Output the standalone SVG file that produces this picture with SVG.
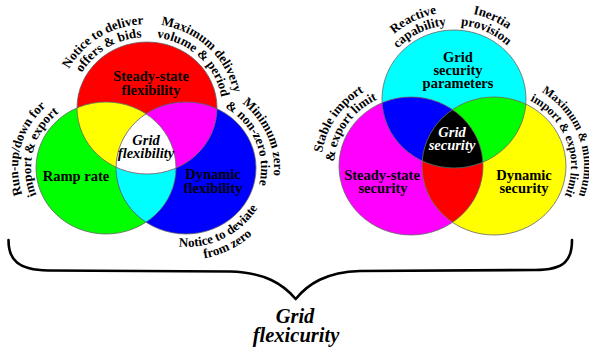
<svg xmlns="http://www.w3.org/2000/svg" xmlns:xlink="http://www.w3.org/1999/xlink" width="589" height="348" viewBox="0 0 589 348">
<style>
text{font-family:"Liberation Serif","Times New Roman",serif;font-weight:bold;fill:#000;}
.lbl{font-size:14.5px;text-anchor:middle;}
.it{font-style:italic;}
.arc{font-size:13px;}
.arcs{font-size:12px;}
.big{font-size:20.5px;text-anchor:middle;font-style:italic;}
.wt{fill:#fff;}
.ol{fill:none;stroke:#666;stroke-width:0.8;}
.brace{fill:none;stroke:#000;stroke-width:2.6;stroke-linecap:round;stroke-linejoin:round;}
</style>
<defs>
<ellipse id="eR" cx="147" cy="108" rx="70" ry="66"/>
<ellipse id="eG" cx="106" cy="168" rx="70" ry="66"/>
<ellipse id="eB" cx="186" cy="168" rx="70" ry="66"/>
<ellipse id="eC" cx="454" cy="99" rx="72" ry="69"/>
<ellipse id="eM" cx="411" cy="166" rx="72" ry="69"/>
<ellipse id="eY" cx="494" cy="166" rx="72" ry="69"/>
<clipPath id="cR"><use xlink:href="#eR"/></clipPath>
<clipPath id="cG"><use xlink:href="#eG"/></clipPath>
<clipPath id="cB"><use xlink:href="#eB"/></clipPath>
<clipPath id="cC"><use xlink:href="#eC"/></clipPath>
<clipPath id="cM"><use xlink:href="#eM"/></clipPath>
<clipPath id="cY"><use xlink:href="#eY"/></clipPath>
<path id="pA1" d="M72.73,117.88 A75,71 0 0 1 186.74,47.79"/>
<path id="pA2" d="M59.86,119.69 A88,84 0 0 1 193.63,36.76"/>
<path id="pB1" d="M121.35,41.28 A75,71 0 0 1 217.48,132.28"/>
<path id="pB2" d="M116.90,29.07 A88,84 0 0 1 229.69,136.73"/>
<path id="pC1" d="M58.80,223.18 A75,71 0 0 1 91.69,98.30"/>
<path id="pC2" d="M50.62,233.28 A88,84 0 0 1 89.21,85.54"/>
<path id="pD1" d="M189.93,97.10 A75,71 0 0 1 240.85,216.42"/>
<path id="pD2" d="M190.61,84.12 A88,84 0 0 1 250.36,225.29"/>
<path id="pE1" d="M136.05,231.09 A83,79 0 0 0 268.89,163.87"/>
<path id="pE2" d="M128.23,241.47 A96,92 0 0 0 281.87,163.18"/>
<path id="pF1" d="M377.05,101.58 A77,74 0 0 1 501.41,40.69"/>
<path id="pF2" d="M364.05,102.04 A90,87 0 0 1 509.41,30.44"/>
<path id="pG1" d="M404.51,42.31 A77,74 0 0 1 531,99"/>
<path id="pG2" d="M396.15,32.35 A90,87 0 0 1 544,99"/>
<path id="pH1" d="M345.70,205.21 A77,74 0 0 1 421.72,92.72"/>
<path id="pH2" d="M334.68,212.10 A90,87 0 0 1 423.53,79.85"/>
<path id="pI1" d="M499.35,92.13 A77,74 0 0 1 545.53,221.01"/>
<path id="pI2" d="M500.28,79.15 A90,87 0 0 1 554.23,230.65"/>
</defs>

<!-- Grid flexibility Venn shapes -->
<g id="venn-flexibility-shapes">
<use xlink:href="#eR" fill="#ff0000"/>
<use xlink:href="#eG" fill="#00ff00"/>
<use xlink:href="#eB" fill="#0000ff"/>
<g clip-path="url(#cG)"><use xlink:href="#eB" fill="#00ffff"/></g>
<g clip-path="url(#cR)"><use xlink:href="#eG" fill="#ffff00"/><use xlink:href="#eB" fill="#ff00ff"/><g clip-path="url(#cG)"><use xlink:href="#eB" fill="#ffffff"/></g></g>
<use xlink:href="#eR" class="ol"/>
<use xlink:href="#eG" class="ol"/>
<use xlink:href="#eB" class="ol"/>
</g>

<!-- Grid security Venn shapes -->
<g id="venn-security-shapes">
<use xlink:href="#eC" fill="#00ffff"/>
<use xlink:href="#eM" fill="#ff00ff"/>
<use xlink:href="#eY" fill="#ffff00"/>
<g clip-path="url(#cM)"><use xlink:href="#eY" fill="#ff0000"/></g>
<g clip-path="url(#cC)"><use xlink:href="#eM" fill="#0000ff"/><use xlink:href="#eY" fill="#00ff00"/><g clip-path="url(#cM)"><use xlink:href="#eY" fill="#000000"/></g></g>
<use xlink:href="#eC" class="ol"/>
<use xlink:href="#eM" class="ol"/>
<use xlink:href="#eY" class="ol"/>
</g>

<g id="node-steady-state-flexibility">
<text class="lbl" x="151" y="81">Steady-state</text>
<text class="lbl" x="151" y="95">flexibility</text>
<text class="arc"><textPath xlink:href="#pA1" startOffset="50%" text-anchor="middle">offers &amp; bids</textPath></text>
<text class="arc"><textPath xlink:href="#pA2" startOffset="50%" text-anchor="middle">Notice to deliver</textPath></text>
<text class="arc"><textPath xlink:href="#pB1" startOffset="50%" text-anchor="middle">volume &amp; period</textPath></text>
<text class="arc"><textPath xlink:href="#pB2" startOffset="50%" text-anchor="middle">Maximum delivery</textPath></text>
</g>
<g id="node-ramp-rate">
<text class="lbl" x="76" y="181">Ramp rate</text>
<text class="arc"><textPath xlink:href="#pC1" startOffset="50%" text-anchor="middle">import &amp; export</textPath></text>
<text class="arc"><textPath xlink:href="#pC2" startOffset="50%" text-anchor="middle">Run-up/down for</textPath></text>
</g>
<g id="node-dynamic-flexibility">
<text class="lbl" x="213" y="178.5">Dynamic</text>
<text class="lbl" x="213" y="193">flexibility</text>
<text class="arc"><textPath xlink:href="#pD1" startOffset="50%" text-anchor="middle">&amp; non-zero time</textPath></text>
<text class="arc"><textPath xlink:href="#pD2" startOffset="50%" text-anchor="middle">Minimum zero</textPath></text>
<text class="arc"><textPath xlink:href="#pE1" startOffset="50%" text-anchor="middle">Notice to deviate</textPath></text>
<text class="arc"><textPath xlink:href="#pE2" startOffset="50%" text-anchor="middle">from zero</textPath></text>
</g>
<g id="node-grid-flexibility">
<text class="lbl it" x="146" y="145">Grid</text>
<text class="lbl it" x="146" y="158">flexibility</text>
</g>

<g id="node-grid-security-parameters">
<text class="lbl" x="458" y="61.5">Grid</text>
<text class="lbl" x="458" y="74.5">security</text>
<text class="lbl" x="458" y="87.5">parameters</text>
<text class="arc"><textPath xlink:href="#pF1" startOffset="50%" text-anchor="middle">capability</textPath></text>
<text class="arc"><textPath xlink:href="#pF2" startOffset="50%" text-anchor="middle">Reactive</textPath></text>
<text class="arc"><textPath xlink:href="#pG1" startOffset="50%" text-anchor="middle">provision</textPath></text>
<text class="arc"><textPath xlink:href="#pG2" startOffset="50%" text-anchor="middle">Inertia</textPath></text>
</g>
<g id="node-steady-state-security">
<text class="lbl" x="382" y="180">Steady-state</text>
<text class="lbl" x="383" y="193">security</text>
<text class="arc"><textPath xlink:href="#pH1" startOffset="50%" text-anchor="middle">&amp; export limit</textPath></text>
<text class="arc"><textPath xlink:href="#pH2" startOffset="50%" text-anchor="middle">Stable import</textPath></text>
</g>
<g id="node-dynamic-security">
<text class="lbl" x="524" y="180">Dynamic</text>
<text class="lbl" x="524" y="193">security</text>
<text class="arcs"><textPath xlink:href="#pI1" startOffset="50%" text-anchor="middle">import &amp; export limit</textPath></text>
<text class="arcs"><textPath xlink:href="#pI2" startOffset="50%" text-anchor="middle">Maximum &amp; minimum</textPath></text>
</g>
<g id="node-grid-security">
<text class="lbl it wt" x="452" y="137">Grid</text>
<text class="lbl it wt" x="452" y="149.5">security</text>
</g>

<g id="connectors">
<path class="brace" d="M8.5,240 C8.5,260 18,270 48,270.5 L230,271.5 C265,272.5 283,284 295.7,299 C308,284 326,272 360,271 L535,270 C565,270 572,260 572,240"/>
</g>
<g id="node-grid-flexicurity">
<text class="big" x="295" y="323">Grid</text>
<text class="big" x="296" y="342">flexicurity</text>
</g>
</svg>
